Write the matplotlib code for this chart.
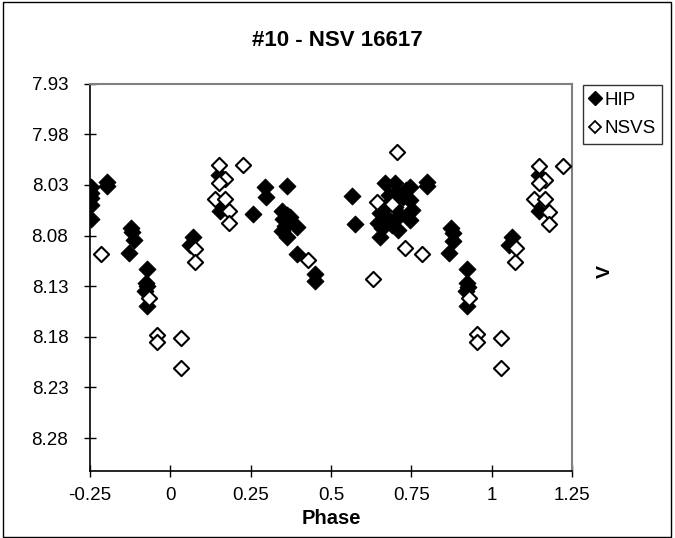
import matplotlib
matplotlib.use("Agg")
import matplotlib.pyplot as plt
from matplotlib.lines import Line2D

plt.rcParams['font.family'] = ['Liberation Sans', 'DejaVu Sans']

title = "#10 - NSV 16617"
xlabel = "Phase"
ylabel = "V"
xticks = [-0.25, 0, 0.25, 0.5, 0.75, 1, 1.25]
xtick_labels = ["-0.25", "0", "0.25", "0.5", "0.75", "1", "1.25"]
yticks = [7.93, 7.98, 8.03, 8.08, 8.13, 8.18, 8.23, 8.28]
ytick_labels = ["7.93", "7.98", "8.03", "8.08", "8.13", "8.18", "8.23", "8.28"]

hip_phase = [-0.247, -0.247, -0.247, -0.247, -0.247,
             -0.196, -0.196,
             -0.122, -0.119, -0.114, -0.127,
             -0.073, -0.075, -0.071, -0.078, -0.073,
             0.071, 0.062,
             0.152, 0.155, 0.257, 0.295, 0.298, 0.364,
             0.347, 0.362, 0.352, 0.357, 0.347, 0.364, 0.393, 0.372,
             0.393, 0.450, 0.450,
             0.567, 0.575,
             0.668, 0.699, 0.746, 0.746, 0.751, 0.746, 0.709, 0.652, 0.647,
             0.652, 0.683, 0.673, 0.699, 0.715, 0.660, 0.690, 0.680, 0.705,
             0.670, 0.725, 0.735,
             0.798, 0.798,
             0.875, 0.880, 0.880, 0.868,
             0.924, 0.922, 0.926, 0.920, 0.924,
             1.062, 1.055,
             1.148, 1.148]
hip_mag = [8.032, 8.038, 8.043, 8.050, 8.064,
           8.027, 8.031,
           8.073, 8.077, 8.084, 8.097,
           8.113, 8.127, 8.130, 8.135, 8.150,
           8.081, 8.089,
           8.020, 8.056, 8.059, 8.032, 8.042, 8.031,
           8.056, 8.060, 8.064, 8.071, 8.076, 8.081, 8.072, 8.062,
           8.098, 8.118, 8.125,
           8.041, 8.069,
           8.028, 8.028, 8.032, 8.045, 8.055, 8.065, 8.075, 8.058, 8.068,
           8.081, 8.066, 8.050, 8.052, 8.060, 8.073, 8.070, 8.040, 8.038,
           8.062, 8.042, 8.035,
           8.027, 8.031,
           8.073, 8.078, 8.085, 8.097,
           8.113, 8.127, 8.131, 8.135, 8.150,
           8.081, 8.089,
           8.020, 8.056]

nsvs_phase = [-0.216, 0.077, 0.077, -0.065, -0.040, -0.040, 0.034, 0.034,
              0.153, 0.226, 0.170, 0.153, 0.139, 0.170, 0.184, 0.184, 0.429,
              0.707, 0.642, 0.689, 0.730, 0.782, 0.632,
              0.930, 0.953, 0.953, 1.029, 1.029, 1.072, 1.075,
              1.148, 1.221, 1.165, 1.148, 1.131, 1.165, 1.179, 1.179]
nsvs_mag = [8.098, 8.093, 8.106, 8.142, 8.178, 8.185, 8.181, 8.211,
            8.010, 8.010, 8.024, 8.028, 8.044, 8.044, 8.056, 8.068, 8.104,
            7.998, 8.047, 8.049, 8.092, 8.098, 8.123,
            8.142, 8.177, 8.185, 8.181, 8.211, 8.106, 8.092,
            8.011, 8.011, 8.025, 8.028, 8.044, 8.044, 8.057, 8.069]

fig = plt.figure(figsize=(6.75, 5.38), dpi=100)
# outer chart frame
fig.patches.append(plt.Rectangle((0.004, 0.002), 0.99, 0.994, transform=fig.transFigure,
                                 fill=False, edgecolor='black', linewidth=1.0))
ax = fig.add_axes([89.8 / 675, 1 - 471 / 538, (572 - 89.8) / 675, (471 - 83.6) / 538])

ax.scatter(hip_phase, hip_mag, marker='D', s=72, facecolor='black', edgecolor='black',
           linewidths=0.8, zorder=3, label='HIP')
ax.scatter(nsvs_phase, nsvs_mag, marker='D', s=60, facecolor='white', edgecolor='black',
           linewidths=1.5, zorder=4, label='NSVS')

ax.set_xlim(-0.25, 1.25)
ax.set_ylim(8.3125, 7.93)
ax.set_xticks(xticks)
ax.set_xticklabels(xtick_labels)
ax.set_yticks(yticks)
ax.set_yticklabels(ytick_labels)
ax.tick_params(axis='both', direction='inout', length=9, width=1, labelsize=13.5, colors='black')
ax.tick_params(axis='x', pad=7)
ax.tick_params(axis='y', pad=11)

for s in ['top', 'right']:
    ax.spines[s].set_color('#808080')
    ax.spines[s].set_linewidth(1.5)
for s in ['left', 'bottom']:
    ax.spines[s].set_color('black')
    ax.spines[s].set_linewidth(1.2)

fig.text(337 / 675, 1 - 40 / 538, title, ha='center', va='center', fontsize=16, fontweight='bold')
fig.text(331 / 675, 1 - 518 / 538, xlabel, ha='center', va='center', fontsize=14.5, fontweight='bold')
fig.text(605 / 675, 1 - 272 / 538, ylabel, ha='center', va='center', fontsize=14,
         fontweight='bold', rotation=90)

handles = [Line2D([], [], marker='D', linestyle='none', markersize=7, markerfacecolor='black',
                  markeredgecolor='black', label='HIP'),
           Line2D([], [], marker='D', linestyle='none', markersize=6.5, markerfacecolor='white',
                  markeredgecolor='black', markeredgewidth=1.3, label='NSVS')]
leg = fig.legend(handles=handles, loc='upper left', bbox_to_anchor=(583 / 675, 1 - 85 / 538),
                 frameon=True, fancybox=False, edgecolor='black', fontsize=13.5,
                 handlelength=0.6, handletextpad=0.2, borderpad=0.35, labelspacing=0.6,
                 borderaxespad=0)
leg.get_frame().set_linewidth(1.0)

fig.savefig('out.png', dpi=100)
